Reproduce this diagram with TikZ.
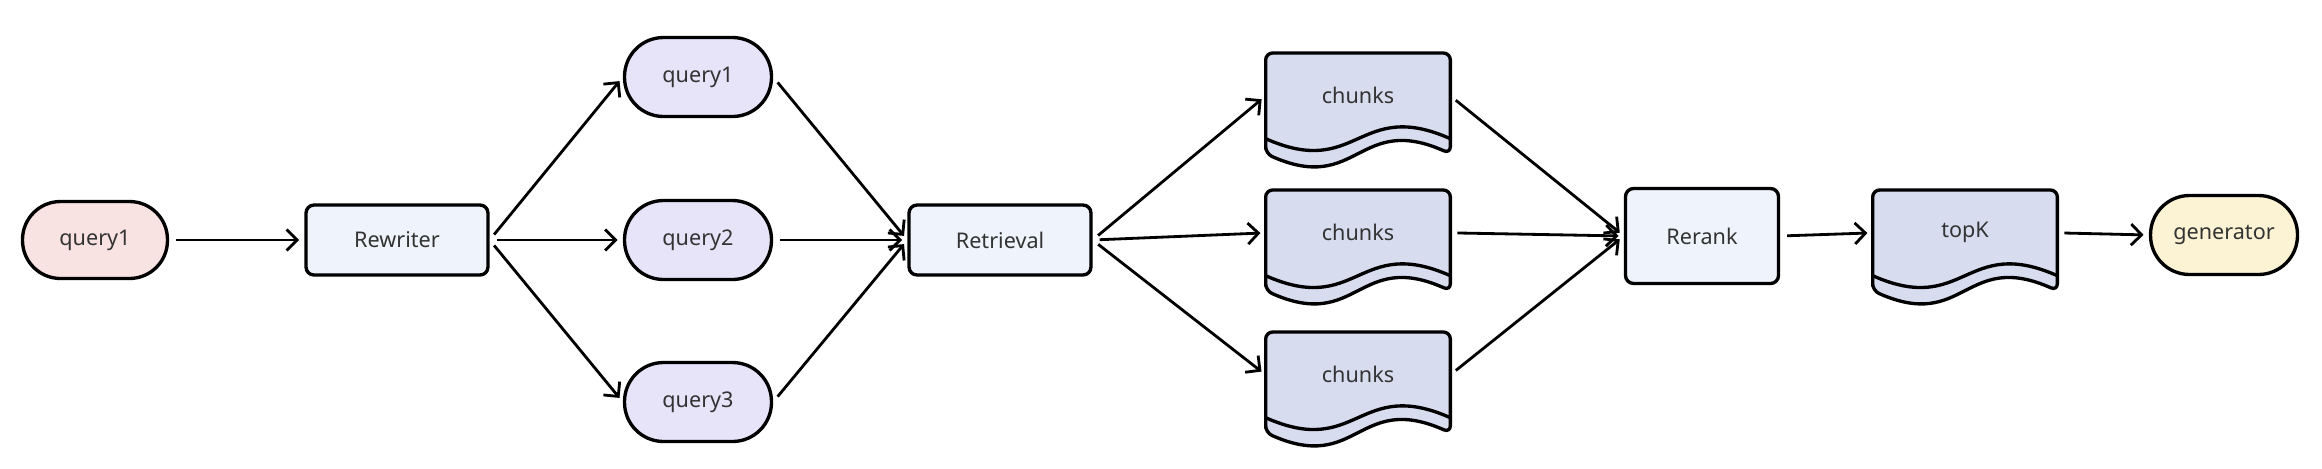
\documentclass[tikz,border=0pt]{standalone}
\usepackage{fontspec}
\setmainfont{Noto Sans}
\usetikzlibrary{arrows.meta,backgrounds}

\definecolor{pinkfill}{HTML}{F9E2E2}
\definecolor{boxfill}{HTML}{EFF3FC}
\definecolor{queryfill}{HTML}{E7E3F9}
\definecolor{docfill}{HTML}{D7DCEF}
\definecolor{genfill}{HTML}{FCF2D4}
\definecolor{txt}{HTML}{333333}

% document shape with a wavy bottom, drawn behind a named node
\newcommand{\docshape}[1]{%
  \begin{scope}[on background layer]
    \draw[docline] ([yshift=-0.3cm]#1.south west) -- (#1.north west) -- (#1.north east) -- ([yshift=-0.3cm]#1.south east)
      .. controls ([yshift=0.52cm]#1.south) and ([yshift=-1.12cm]#1.south) .. ([yshift=-0.3cm]#1.south west) -- cycle;
    \draw[docline, fill=none] (#1.south west) .. controls ([yshift=-0.82cm]#1.south) and ([yshift=0.82cm]#1.south) .. (#1.south east);
  \end{scope}}

\begin{document}
\begin{tikzpicture}[x=0.02cm, y=-0.02cm,
    font=\fontsize{12.3}{14}\selectfont, text=txt,
    pill/.style={draw, line width=1.9pt, rounded corners=0.78cm, minimum width=2.94cm, minimum height=1.58cm, inner sep=0pt},
    box/.style={draw, line width=1.9pt, fill=boxfill, rounded corners=0.16cm, minimum width=3.64cm, minimum height=1.4cm, inner sep=0pt},
    doc/.style={anchor=north, minimum width=3.68cm, minimum height=1.7cm, inner sep=0pt},
    docline/.style={draw, line width=1.9pt, fill=docfill, rounded corners=0.14cm},
    arr/.style={line width=1.6pt, -{Straight Barb[length=6pt,width=12pt]}, shorten <=4pt, shorten >=3pt}]

        \useasboundingbox (0,0) rectangle (2322,468);

        % Input query
        \node[pill, fill=pinkfill, minimum width=2.9cm, minimum height=1.54cm, rounded corners=0.76cm] (q0) at (95,240) {query1};
        \node[box] (rw) at (397,240) {Rewriter};

        % Rewritten queries
        \node[pill, fill=queryfill] (q1) at (698,77) {query1};
        \node[pill, fill=queryfill] (q2) at (698,240) {query2};
        \node[pill, fill=queryfill] (q3) at (698,402) {query3};

        \node[box] (rt) at (1000,240) {Retrieval};

        % Retrieved chunks
        \node[doc] (c1) at (1358,53) {chunks};
        \node[doc] (c2) at (1358,190) {chunks};
        \node[doc] (c3) at (1358,332) {chunks};
        \docshape{c1}
        \docshape{c2}
        \docshape{c3}

        % Rerank and output
        \node[box, minimum width=3.06cm, minimum height=1.9cm] (rr) at (1702,236) {Rerank};
        \node[doc] (tk) at (1965,190) {topK};
        \docshape{tk}
        \node[pill, fill=genfill] (gen) at (2224,235) {generator};

        % Connectors
        \draw[arr] (q0.east) -- (rw.west);

        \draw[arr] (rw.east) -- (q1.west);
        \draw[arr] (rw.east) -- (q2.west);
        \draw[arr] (rw.east) -- (q3.west);

        \draw[arr] (q1.east) -- (rt.west);
        \draw[arr] (q2.east) -- (rt.west);
        \draw[arr] (q3.east) -- (rt.west);

        \draw[arr] (rt.east) -- (c1.west);
        \draw[arr] (rt.east) -- (c2.west);
        \draw[arr] (rt.east) -- (c3.west);

        \draw[arr] (c1.east) -- (rr.west);
        \draw[arr] (c2.east) -- (rr.west);
        \draw[arr] (c3.east) -- (rr.west);

        \draw[arr] (rr.east) -- (tk.west);
        \draw[arr] (tk.east) -- (gen.west);

    \end{tikzpicture}
\end{document}
